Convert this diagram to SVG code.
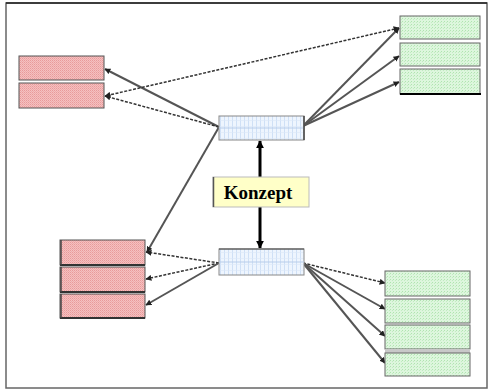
<svg xmlns="http://www.w3.org/2000/svg" width="489" height="390" viewBox="0 0 489 390">
<style>
.red{fill:url(#pr);stroke:#555;stroke-width:1}
.green{fill:url(#pg);stroke:#666;stroke-width:1}
.blue{fill:url(#pb);stroke:#888;stroke-width:1}
.ln{stroke:#555;stroke-width:2;fill:none;marker-end:url(#ah)}
.dash{stroke:#333;stroke-width:1.5;stroke-dasharray:3 1.5;fill:none;marker-end:url(#ah)}
.thick{stroke:#000;stroke-width:3;fill:none;marker-end:url(#ahb)}
.lbl{font-family:"Liberation Serif",serif;font-weight:bold;font-size:19px;fill:#000}
</style>
<defs>
<pattern id="pr" width="2" height="2" patternUnits="userSpaceOnUse">
<rect width="2" height="2" fill="#f5c0c0"/><rect width="1" height="1" fill="#e89a9a"/><rect x="1" y="1" width="1" height="1" fill="#eeaaaa"/>
</pattern>
<pattern id="pg" width="3" height="3" patternUnits="userSpaceOnUse">
<rect width="3" height="3" fill="#ddf6dd"/><rect width="1" height="1" fill="#b0e4b0"/><rect x="2" y="1" width="1" height="1" fill="#c2ecc2"/>
</pattern>
<pattern id="pb" width="4" height="6" patternUnits="userSpaceOnUse">
<rect width="4" height="6" fill="#eef5fe"/><rect width="1" height="6" fill="#cfe0f6"/><rect width="4" height="0.6" fill="#dce8f8"/>
</pattern>
<marker id="ah" viewBox="0 0 10 10" refX="9" refY="5" markerWidth="6" markerHeight="6" markerUnits="userSpaceOnUse" orient="auto">
<path d="M0,0 L10,5 L0,10 z" fill="#222"/>
</marker>
<marker id="ahs" viewBox="0 0 10 10" refX="1" refY="5" markerWidth="6" markerHeight="6" markerUnits="userSpaceOnUse" orient="auto">
<path d="M10,0 L0,5 L10,10 z" fill="#222"/>
</marker>
<marker id="ahb" viewBox="0 0 10 10" refX="9" refY="5" markerWidth="8" markerHeight="8" markerUnits="userSpaceOnUse" orient="auto">
<path d="M0,0 L10,5 L0,10 z" fill="#000"/>
</marker>
</defs>
<rect x="6" y="3" width="481" height="385" fill="#fff" stroke="#666" stroke-width="1.5"/>
<line x1="6" y1="3" x2="487" y2="3" stroke="#222" stroke-width="1.5"/>

<g id="connectors">
<line class="ln" x1="219" y1="127" x2="105" y2="69"/>
<line class="dash" x1="219" y1="127" x2="105" y2="96"/>
<line class="dash" x1="399" y1="28" x2="105" y2="96" marker-start="url(#ahs)"/>
<line class="ln" x1="219" y1="127" x2="147" y2="252"/>
<line class="ln" x1="303" y1="126" x2="399" y2="28"/>
<line class="ln" x1="303" y1="126" x2="399" y2="56"/>
<line class="ln" x1="303" y1="126" x2="399" y2="82"/>
<line class="dash" x1="219" y1="263" x2="146" y2="252"/>
<line class="dash" x1="219" y1="263" x2="146" y2="279"/>
<line class="ln" x1="219" y1="263" x2="146" y2="305"/>
<line class="dash" x1="303" y1="263" x2="385" y2="283"/>
<line class="ln" x1="303" y1="263" x2="385" y2="309"/>
<line class="ln" x1="303" y1="263" x2="385" y2="336"/>
<line class="ln" x1="303" y1="263" x2="385" y2="363"/>
<line class="thick" x1="260" y1="177" x2="260" y2="141"/>
<line class="thick" x1="260" y1="207" x2="260" y2="248"/>
</g>

<g id="red-top-1"><rect class="red" x="19" y="56" width="85" height="24"/></g>
<g id="red-top-2"><rect class="red" x="19" y="83" width="85" height="25"/></g>

<g id="blue-top">
<rect class="blue" x="219" y="116" width="85" height="24"/>
<line x1="219" y1="128" x2="304" y2="128" stroke="#b8cdea" stroke-width="1"/>
<line x1="304" y1="116" x2="304" y2="140" stroke="#444" stroke-width="1.5"/>
</g>

<g id="konzept">
<rect x="213" y="177" width="96" height="30" fill="#ffffc8" stroke="#bbb" stroke-width="1"/>
<line x1="213.5" y1="177" x2="213.5" y2="207" stroke="#555" stroke-width="1.5"/>
<text class="lbl" x="258" y="199" text-anchor="middle">Konzept</text>
</g>

<g id="blue-bottom">
<rect class="blue" x="219" y="249" width="85" height="26"/>
<line x1="219" y1="262" x2="304" y2="262" stroke="#b8cdea" stroke-width="1"/>
<line x1="219" y1="249" x2="304" y2="249" stroke="#444" stroke-width="1.2"/>
</g>

<g id="green-top-1"><rect class="green" x="400" y="16" width="80" height="23"/></g>
<g id="green-top-2"><rect class="green" x="400" y="43" width="80" height="23"/></g>
<g id="green-top-3"><rect class="green" x="400" y="69" width="80" height="25"/>
<line x1="400" y1="94" x2="481" y2="94" stroke="#000" stroke-width="2"/></g>

<g id="red-bottom-1"><rect class="red" x="60" y="240" width="85" height="25"/>
<line x1="60" y1="265" x2="145" y2="265" stroke="#333" stroke-width="2"/><line x1="61" y1="240" x2="61" y2="265" stroke="#444" stroke-width="1.5"/></g>
<g id="red-bottom-2"><rect class="red" x="60" y="267" width="85" height="25"/>
<line x1="60" y1="292" x2="145" y2="292" stroke="#333" stroke-width="2"/><line x1="61" y1="267" x2="61" y2="292" stroke="#444" stroke-width="1.5"/></g>
<g id="red-bottom-3"><rect class="red" x="60" y="294" width="85" height="24"/>
<line x1="60" y1="318" x2="145" y2="318" stroke="#333" stroke-width="2"/><line x1="61" y1="294" x2="61" y2="318" stroke="#444" stroke-width="1.5"/></g>

<g id="green-bottom-1"><rect class="green" x="385" y="271" width="85" height="25"/></g>
<g id="green-bottom-2"><rect class="green" x="385" y="299" width="85" height="24"/></g>
<g id="green-bottom-3"><rect class="green" x="385" y="325" width="85" height="24"/>
<rect x="385" y="349" width="85" height="4" fill="#c8c8c8"/></g>
<g id="green-bottom-4"><rect class="green" x="385" y="353" width="85" height="23"/></g>
</svg>
